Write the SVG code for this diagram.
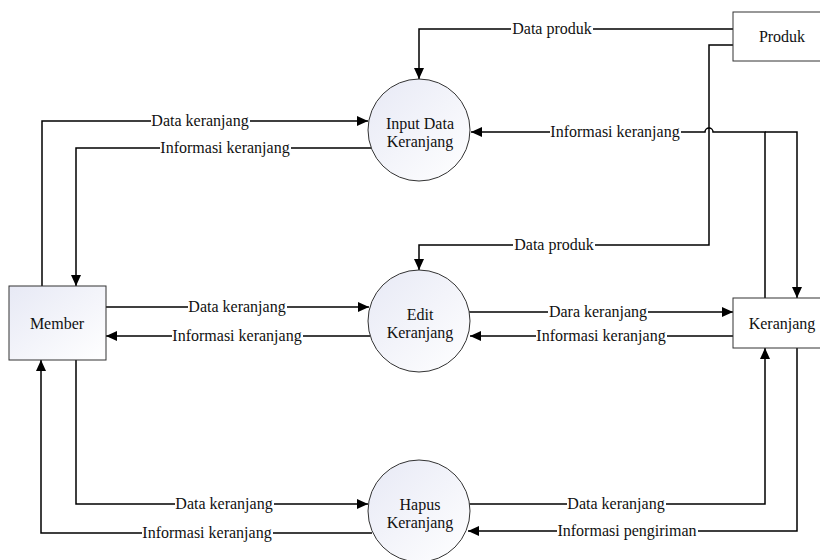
<svg xmlns="http://www.w3.org/2000/svg" width="820" height="560" viewBox="0 0 820 560">
  <style>
    .wire { fill: none; stroke: #000; stroke-width: 1.5; }
    .box { stroke: #333; stroke-width: 1; }
    .label { font-family: 'Liberation Serif', 'Times New Roman', Times, 'DejaVu Serif', serif; font-size: 16px; fill: #111; text-anchor: middle; }
    .bg { fill: #fff; }
  </style>
  <defs>
    <linearGradient id="soft" x1="0" y1="0" x2="1" y2="1">
      <stop offset="0" stop-color="#e7e9f5"/>
      <stop offset="1" stop-color="#ffffff"/>
    </linearGradient>
    <marker id="arrow" markerUnits="userSpaceOnUse" markerWidth="12" markerHeight="10" refX="11" refY="5" orient="auto">
      <path d="M0,0 L11,5 L0,10 z" fill="#000"/>
    </marker>
  </defs>

  <rect width="820" height="560" fill="#fff"/>

  <!-- connectors -->
  <g id="connectors">
    <path class="wire" d="M733,29 H419 V79" marker-end="url(#arrow)"/>
    <path class="wire" d="M733,45 H709 V245 H419 V270" marker-end="url(#arrow)"/>
    <path class="wire" d="M765,298 V132 H713 A4,4 0 0 0 705,132 H471" marker-end="url(#arrow)"/>
    <path class="wire" d="M765,132 H797 V298" marker-end="url(#arrow)"/>
    <path class="wire" d="M42,286 V121 H368" marker-end="url(#arrow)"/>
    <path class="wire" d="M371,148 H76 V286" marker-end="url(#arrow)"/>
    <path class="wire" d="M106,307 H369" marker-end="url(#arrow)"/>
    <path class="wire" d="M370,336 H106" marker-end="url(#arrow)"/>
    <path class="wire" d="M469,312 H733" marker-end="url(#arrow)"/>
    <path class="wire" d="M733,336 H470" marker-end="url(#arrow)"/>
    <path class="wire" d="M76,360 V504 H368" marker-end="url(#arrow)"/>
    <path class="wire" d="M372,533 H41 V360" marker-end="url(#arrow)"/>
    <path class="wire" d="M469,504 H765 V348" marker-end="url(#arrow)"/>
    <path class="wire" d="M797,348 V531 H468" marker-end="url(#arrow)"/>

    <!-- flow labels -->
    <rect class="bg" x="511" y="22" width="82" height="14"/>
    <text class="label" x="552" y="34">Data produk</text>
    <rect class="bg" x="513" y="238" width="82" height="14"/>
    <text class="label" x="554" y="250">Data produk</text>
    <rect class="bg" x="550" y="125" width="131" height="14"/>
    <text class="label" x="615" y="137">Informasi keranjang</text>
    <rect class="bg" x="151" y="114" width="99" height="14"/>
    <text class="label" x="200" y="126">Data keranjang</text>
    <rect class="bg" x="160" y="141" width="131" height="14"/>
    <text class="label" x="225" y="153">Informasi keranjang</text>
    <rect class="bg" x="188" y="300" width="99" height="14"/>
    <text class="label" x="237" y="312">Data keranjang</text>
    <rect class="bg" x="172" y="329" width="131" height="14"/>
    <text class="label" x="237" y="341">Informasi keranjang</text>
    <rect class="bg" x="548" y="305" width="100" height="14"/>
    <text class="label" x="598" y="317">Dara keranjang</text>
    <rect class="bg" x="536" y="329" width="131" height="14"/>
    <text class="label" x="601" y="341">Informasi keranjang</text>
    <rect class="bg" x="175" y="497" width="99" height="14"/>
    <text class="label" x="224" y="509">Data keranjang</text>
    <rect class="bg" x="142" y="526" width="131" height="14"/>
    <text class="label" x="207" y="538">Informasi keranjang</text>
    <rect class="bg" x="567" y="497" width="99" height="14"/>
    <text class="label" x="616" y="509">Data keranjang</text>
    <rect class="bg" x="557" y="524" width="141" height="14"/>
    <text class="label" x="627" y="536">Informasi pengiriman</text>
  </g>

  <!-- external entities -->
  <g id="produk">
    <rect class="box" x="733" y="12" width="98" height="49" fill="#fff"/>
    <text class="label" x="782" y="42">Produk</text>
  </g>
  <g id="keranjang">
    <rect class="box" x="733" y="298" width="98" height="50" fill="#fff"/>
    <text class="label" x="782" y="329">Keranjang</text>
  </g>
  <g id="member">
    <rect class="box" x="9" y="286" width="97" height="74" fill="url(#soft)"/>
    <text class="label" x="57" y="329">Member</text>
  </g>

  <!-- processes -->
  <g id="input-data-keranjang">
    <circle class="box" cx="419" cy="130" r="51" fill="url(#soft)"/>
    <text class="label" x="420" y="129">Input Data</text>
    <text class="label" x="420" y="147">Keranjang</text>
  </g>
  <g id="edit-keranjang">
    <circle class="box" cx="419" cy="321" r="51" fill="url(#soft)"/>
    <text class="label" x="420" y="320">Edit</text>
    <text class="label" x="420" y="338">Keranjang</text>
  </g>
  <g id="hapus-keranjang">
    <circle class="box" cx="419" cy="511" r="51" fill="url(#soft)"/>
    <text class="label" x="420" y="510">Hapus</text>
    <text class="label" x="420" y="528">Keranjang</text>
  </g>
</svg>
